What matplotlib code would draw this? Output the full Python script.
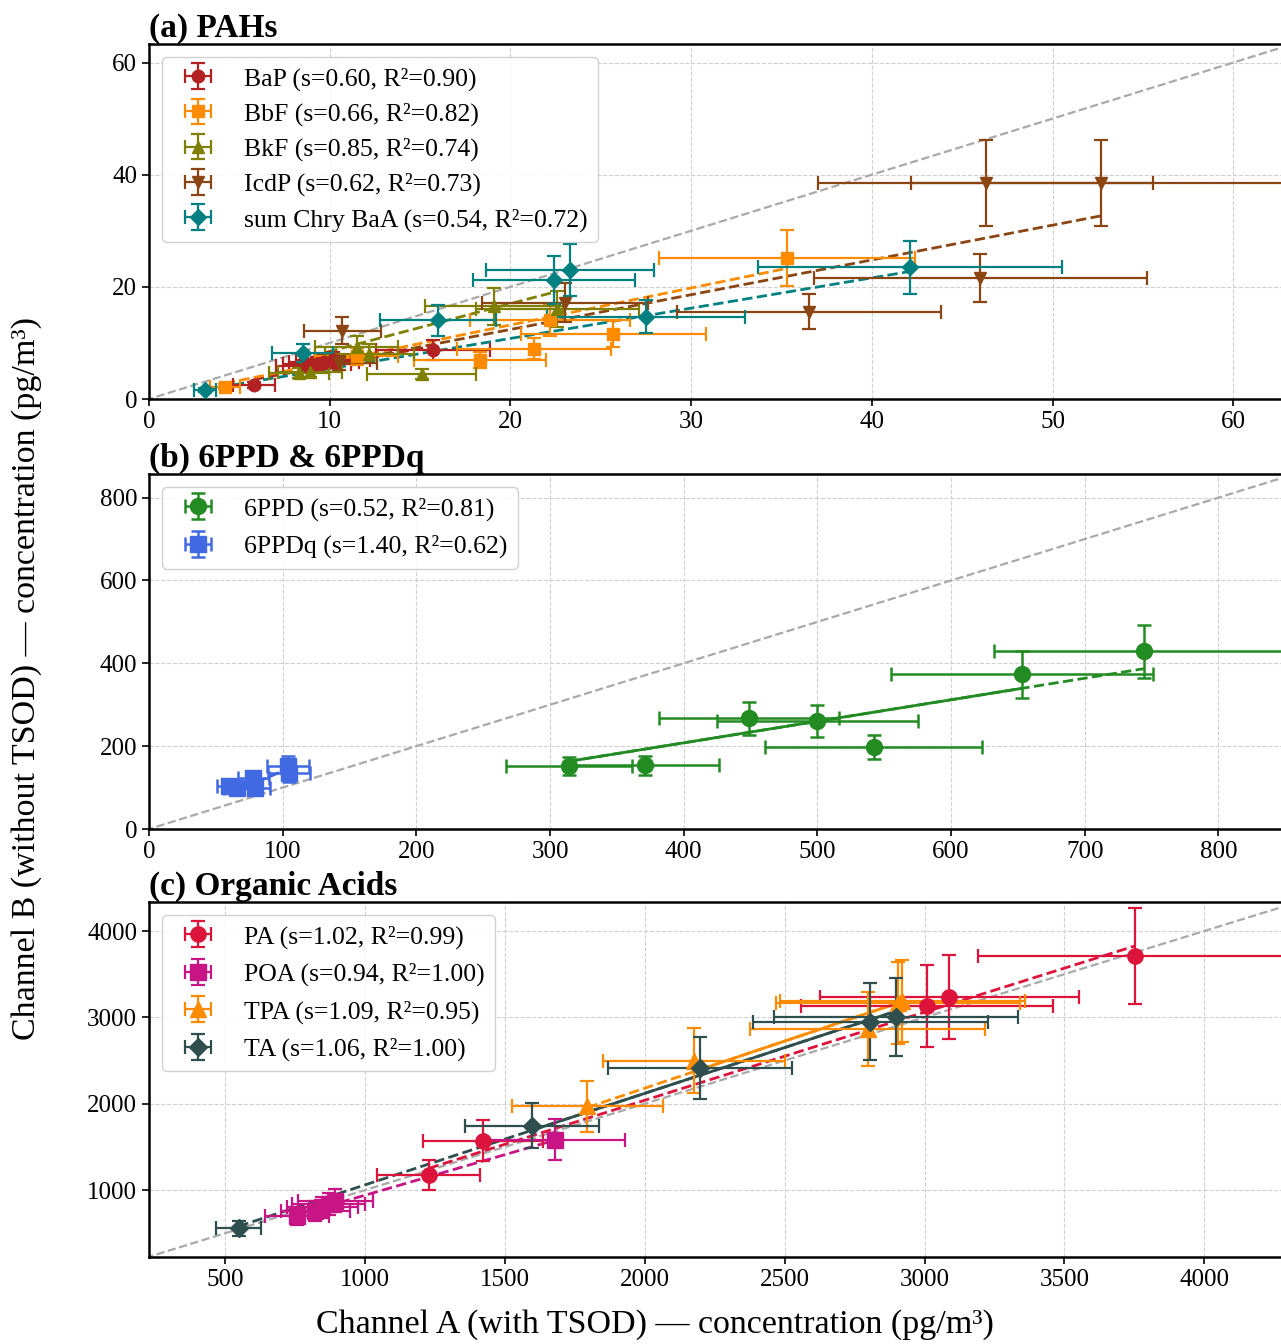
import matplotlib
matplotlib.use('Agg')
import numpy as np
import matplotlib.pyplot as plt
from matplotlib.ticker import MultipleLocator

plt.rcParams['font.family'] = ['Liberation Serif', 'DejaVu Serif']
plt.rcParams['axes.linewidth'] = 1.8

REL_ERR_A = 0.20
REL_ERR_B = 0.15
REL_ERR_C = 0.15

# (a) PAHs
pah_names = ['BaP', 'BbF', 'BkF', 'IcdP', 'sum Chry BaA']
pah_slopes = [0.60, 0.66, 0.85, 0.62, 0.54]
pah_r2 = [0.90, 0.82, 0.74, 0.73, 0.72]
bap_x = [5.8, 8.8, 9.3, 9.7, 10.2, 15.7]
bap_y = [2.5, 5.9, 6.2, 6.6, 7.0, 8.7]
bbf_x = [4.2, 11.5, 18.3, 21.3, 22.2, 25.7, 35.3]
bbf_y = [2.2, 7.6, 7.0, 9.0, 14.1, 11.6, 25.1]
bkf_x = [8.3, 8.9, 11.5, 12.2, 15.1, 19.1, 22.6]
bkf_y = [4.6, 4.9, 9.3, 8.1, 4.5, 16.5, 16.0]
icdp_x = [10.5, 10.7, 23.0, 36.5, 46.0, 46.3, 52.7]
icdp_y = [6.4, 12.2, 17.2, 15.6, 21.6, 38.5, 38.5]
chry_x = [3.1, 8.5, 16.0, 22.4, 23.3, 27.5, 42.1]
chry_y = [1.6, 8.2, 14.0, 21.2, 23.0, 14.7, 23.5]

# (b) 6PPD & 6PPDq
ppd_names = ['6PPD', '6PPDq']
ppd_slopes = [0.52, 1.40]
ppd_r2 = [0.81, 0.62]
ppd_x = [314, 371, 449, 500, 542, 653, 744]
ppd_y = [152, 154, 267, 260, 198, 373, 429]
ppdq_x = [60, 66, 78, 79, 104, 105]
ppdq_y = [105, 98, 122, 100, 153, 134]

# (c) Organic acids
acid_names = ['PA', 'POA', 'TPA', 'TA']
acid_slopes = [1.02, 0.94, 1.09, 1.06]
acid_r2 = [0.99, 1.00, 0.95, 1.00]
pa_x = [1227, 1421, 3009, 3089, 3753]
pa_y = [1174, 1571, 3132, 3240, 3711]
poa_x = [757, 822, 847, 870, 893, 1677]
poa_y = [700, 760, 800, 835, 875, 1585]
tpa_x = [1794, 2176, 2797, 2905, 2920]
tpa_y = [1970, 2500, 2860, 3165, 3190]
ta_x = [547, 1595, 2197, 2806, 2898]
ta_y = [556, 1745, 2412, 2950, 3001]

# parts of a fit line that look solid in the original (index range into sorted x)
solid_part = {'6PPD': (0, 5), 'TPA': (1, 4), 'TA': (1, 4)}


def draw_series(ax, x, y, name, slope, r2, colour, marker, rel_err, ms, lw=1.6):
    x = np.asarray(x, float)
    y = np.asarray(y, float)
    ax.errorbar(x, y, xerr=rel_err * x, yerr=rel_err * y, fmt=marker, color=colour,
                ms=ms, capsize=5, elinewidth=lw, capthick=lw,
                label=f'{name} (s={slope:.2f}, R\u00b2={r2:.2f})', zorder=3)
    xs = np.sort(x)
    xf = np.array([xs[0], xs[-1]])
    ax.plot(xf, slope * xf, '--', color=colour, lw=2, zorder=2)
    if name in solid_part:
        i0, i1 = solid_part[name]
        xp = np.array([xs[i0], xs[i1]])
        ax.plot(xp, slope * xp, '-', color=colour, lw=2, zorder=2)


def style_axes(ax, xlim, ylim, xstep, ystep, title, spacing):
    ax.plot([-1e4, 1e4], [-1e4, 1e4], '--', color='#a9a9a9', lw=1.6, zorder=1)
    ax.set_xlim(*xlim)
    ax.set_ylim(*ylim)
    ax.xaxis.set_major_locator(MultipleLocator(xstep))
    ax.yaxis.set_major_locator(MultipleLocator(ystep))
    ax.grid(True, linestyle='--', color='#d0d0d0', lw=0.8)
    ax.set_axisbelow(True)
    ax.tick_params(labelsize=18, length=5, width=1.2)
    ax.set_title(title, loc='left', fontsize=24, fontweight='bold', pad=3)
    leg = ax.legend(loc='upper left', fontsize=18.5, labelspacing=spacing, framealpha=0.9)
    leg.get_frame().set_edgecolor('#cccccc')


fig = plt.figure(figsize=(12.81, 13.44), dpi=100)
left, width, height = 149 / 1281, 1135 / 1281, 355 / 1344
ax_a = fig.add_axes([left, 1 - 399 / 1344, width, height])
ax_b = fig.add_axes([left, 1 - 829 / 1344, width, height])
ax_c = fig.add_axes([left, 1 - 1257 / 1344, width, height])

# (a)
pah_data = [(bap_x, bap_y), (bbf_x, bbf_y), (bkf_x, bkf_y), (icdp_x, icdp_y), (chry_x, chry_y)]
pah_colours = ['#B22222', '#FF8C00', '#808000', '#8B4513', '#008080']
pah_markers = ['o', 's', '^', 'v', 'D']
pah_ms = [9, 9, 9, 9, 8.5]
for (x, y), n, s, r, c, m, size in zip(pah_data, pah_names, pah_slopes, pah_r2,
                                        pah_colours, pah_markers, pah_ms):
    draw_series(ax_a, x, y, n, s, r, c, m, REL_ERR_A, size)
style_axes(ax_a, (0, 62.8), (0, 63.3), 10, 20, '(a) PAHs', 0.46)

# (b)
ppd_data = [(ppd_x, ppd_y), (ppdq_x, ppdq_y)]
ppd_colours = ['#228B22', '#4169E1']
ppd_markers = ['o', 's']
for (x, y), n, s, r, c, m in zip(ppd_data, ppd_names, ppd_slopes, ppd_r2,
                                 ppd_colours, ppd_markers):
    draw_series(ax_b, x, y, n, s, r, c, m, REL_ERR_B, 11.5, lw=1.8)
style_axes(ax_b, (0, 849), (0, 857), 100, 200, '(b) 6PPD & 6PPDq', 0.56)

# (c)
acid_data = [(pa_x, pa_y), (poa_x, poa_y), (tpa_x, tpa_y), (ta_x, ta_y)]
acid_colours = ['#DC143C', '#C71585', '#FF8C00', '#2F4F4F']
acid_markers = ['o', 's', '^', 'D']
acid_ms = [11, 11, 11, 9.5]
for (x, y), n, s, r, c, m, size in zip(acid_data, acid_names, acid_slopes, acid_r2,
                                        acid_colours, acid_markers, acid_ms):
    draw_series(ax_c, x, y, n, s, r, c, m, REL_ERR_C, size)
style_axes(ax_c, (227, 4285), (224, 4336), 500, 1000, '(c) Organic Acids', 0.55)

fig.text(655 / 1281, 1 - 1325 / 1344, 'Channel A (with TSOD) \u2014 concentration (pg/m\u00b3)',
         ha='center', va='center', fontsize=24.5)
fig.text(27 / 1281, 1 - 678 / 1344, 'Channel B (without TSOD) \u2014 concentration (pg/m\u00b3)',
         ha='center', va='center', rotation=90, fontsize=24.5)

plt.savefig('out.png', dpi=100)
